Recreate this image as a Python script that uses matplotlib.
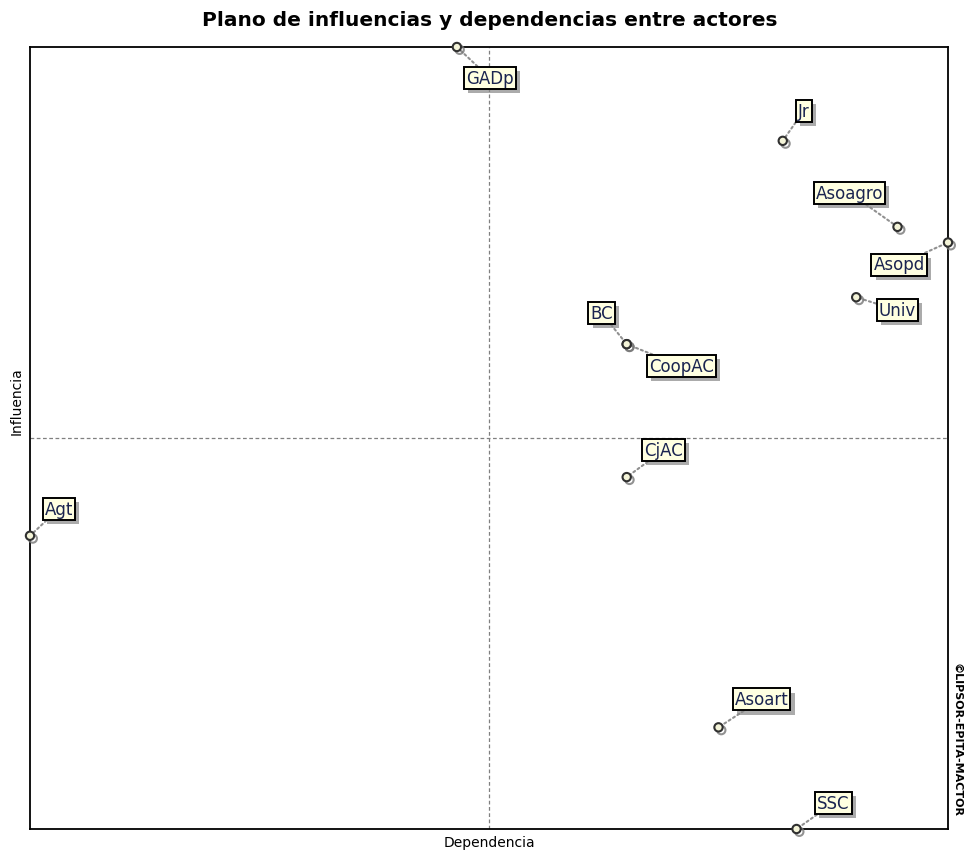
import matplotlib.pyplot as plt
import matplotlib.patheffects as pe

# actores: dependencia (x), influencia (y)
actores = ['GADp', 'Jr', 'Asoagro', 'Asopd', 'Univ', 'BC', 'CoopAC',
           'CjAC', 'Agt', 'Asoart', 'SSC']
dependencia = [0.93, 1.64, 1.89, 2.00, 1.80, 1.30, 1.30, 1.30, 0.00, 1.50, 1.67]
influencia = [2.00, 1.76, 1.54, 1.50, 1.36, 1.24, 1.24, 0.90, 0.75, 0.26, 0.00]

# desplazamiento de la etiqueta respecto al punto (pixeles, y hacia abajo)
desplaz = [(33, 31), (21, -30), (-48, -34), (-49, 22), (41, 13), (-25, -31),
           (55, 22), (37, -27), (29, -27), (43, -28), (37, -26)]

fig = plt.figure(figsize=(9.64, 8.54), dpi=100)
ax = fig.add_axes([30/964, 24/854, 918/964, 782/854])

ax.set_xlim(0, 2)
ax.set_ylim(0, 2)
ax.set_xticks([])
ax.set_yticks([])
for s in ax.spines.values():
    s.set_linewidth(1.3)
    s.set_color('black')

ax.axvline(1, color='#808080', ls=(0, (3, 2)), lw=0.9)
ax.axhline(1, color='#808080', ls=(0, (3, 2)), lw=0.9)

sombra = [pe.SimplePatchShadow(offset=(3, -3), shadow_rgbFace='#888888', alpha=0.7), pe.Normal()]

for nombre, x, y, (dx, dy) in zip(actores, dependencia, influencia, desplaz):
    t = ax.annotate(nombre, (x, y), xytext=(dx, -dy), textcoords='offset pixels',
                    ha='center', va='center', fontsize=12, family='DejaVu Sans',
                    color='#1a2450',
                    bbox=dict(boxstyle='square,pad=0.12', fc='#ffffe1', ec='black', lw=1.4),
                    arrowprops=dict(arrowstyle='-', color='#909090', ls=(0, (1, 1.5)), lw=1.5,
                                    shrinkA=0, shrinkB=2),
                    annotation_clip=False, zorder=4)
    t.get_bbox_patch().set_path_effects(sombra)
    ax.plot(x, y, 'o', ms=6, mfc='#f4f4d8', mec='#303030', mew=1.5, clip_on=False, zorder=5,
            path_effects=[pe.SimpleLineShadow(offset=(2, -2), shadow_color='#777777', alpha=0.8), pe.Normal()])

fig.text(0.508, 0.976, 'Plano de influencias y dependencias entre actores',
         ha='center', va='center', fontsize=14.5, fontweight='bold', family='DejaVu Sans')
fig.text(0.508, 0.013, 'Dependencia', ha='center', va='center', fontsize=10, family='DejaVu Sans')
fig.text(0.017, 0.53, 'Influencia', ha='center', va='center', rotation=90, fontsize=10,
         family='DejaVu Sans')
fig.text(0.9925, 0.133, '©LIPSOR-EPITA-MACTOR', ha='center', va='center', rotation=-90,
         fontsize=8, fontweight='bold', family='DejaVu Sans Condensed')

fig.savefig('out.png', dpi=100)
